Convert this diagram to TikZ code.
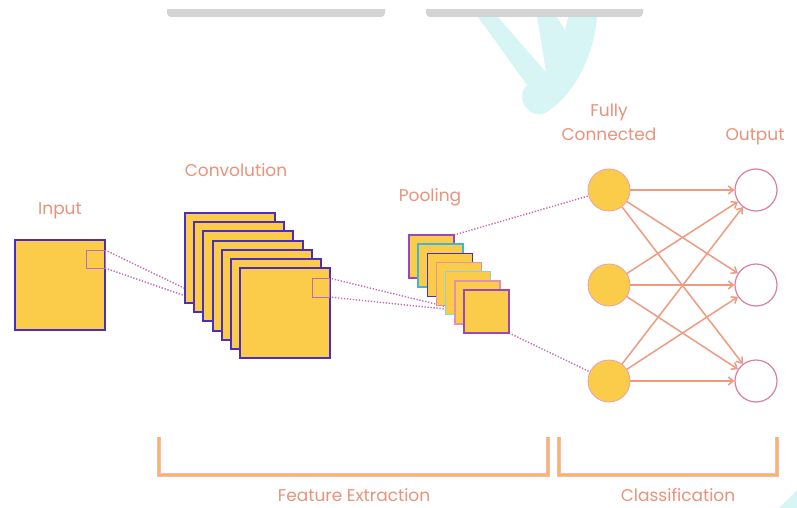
\documentclass[tikz,border=0pt]{standalone}
\usepackage{fontspec}
\setmainfont{Poppins}
\usetikzlibrary{arrows.meta,backgrounds}
\definecolor{yel}{HTML}{FBCB4A}
\definecolor{pur}{HTML}{4B2DC0}
\definecolor{cya}{HTML}{3FB6D9}
\definecolor{pnk}{HTML}{E38FB0}
\definecolor{lcy}{HTML}{8FD0E0}
\definecolor{ppk}{HTML}{9A48B8}
\definecolor{lab}{HTML}{E8937A}
\definecolor{arr}{HTML}{EE9B82}
\definecolor{dotc}{HTML}{C46AB0}
\definecolor{outc}{HTML}{D97FA0}
\definecolor{fce}{HTML}{EBA0A8}
\definecolor{brk}{HTML}{F9B94F}
\definecolor{brkedge}{HTML}{F2B6CF}
\definecolor{barc}{HTML}{D4D4D4}
\definecolor{deco}{HTML}{D6F5F4}
\definecolor{patchc}{HTML}{B070C8}
\tikzset{
 sq/.style={draw=pur, fill=yel, line width=2pt, anchor=north west, inner sep=0pt, outer sep=0pt},
 patchbox/.style={draw=patchc, line width=1pt, anchor=north west, inner sep=0pt, outer sep=0pt},
 lbl/.style={text=lab, font=\fontsize{17}{20}\selectfont, anchor=base, inner sep=0pt},
 fcnode/.style={circle, fill=yel, draw=fce, line width=0.8pt, minimum size=42pt, inner sep=0pt},
 outnode/.style={circle, fill=white, draw=outc, line width=1.2pt, minimum size=42pt, inner sep=0pt},
 conn/.style={draw=arr, line width=1.5pt, -{Straight Barb[length=5pt,width=8pt]}},
 dotline/.style={draw=dotc, line width=1.4pt, dash pattern=on 1.3pt off 1.7pt},
 brkunder/.style={draw=brkedge, line width=3.6pt},
 brkline/.style={draw=brk, line width=2.2pt}
}
\begin{document}
\begin{tikzpicture}[x=1pt,y=-1pt]
\useasboundingbox (0,0) rectangle (797,508);

% input
\node[sq, minimum width=90pt, minimum height=90pt] (in) at (15,240) {};
\node[patchbox, minimum width=19pt, minimum height=18pt] (ip) at (86,250) {};

% convolution stack
\foreach \i/\c in {0/pur,1/pur,2/pur,3/pur,4/pur,5/pur,6/pur}
  \node[sq, draw=\c, minimum width=90pt, minimum height=90pt] (c\i) at ({185+9.17*\i},{213+9.17*\i}) {};
\node[patchbox, minimum width=17pt, minimum height=19pt] (cp) at (312,278) {};

% pooling stack
\foreach \i/\c in {0/ppk,1/cya,2/pur,3/pnk,4/lcy,5/pnk,6/ppk}
  \node[sq, draw=\c, line width=1.6pt, minimum width=45pt, minimum height=43pt] (p\i) at ({409+9.17*\i},{235+9.17*\i}) {};

% fully connected and output
\node[fcnode] (f1) at (609,190) {};
\node[fcnode] (f2) at (609,285) {};
\node[fcnode] (f3) at (609,381) {};
\node[outnode] (o1) at (756,190) {};
\node[outnode] (o2) at (756,285) {};
\node[outnode] (o3) at (756,381) {};

\coordinate (cin) at (240,315);
\coordinate (pin) at (464,311);

\begin{scope}[on background layer]
  \fill[white] (0,0) rectangle (797,508);
  % decorative shapes
  \begin{scope}
    \clip (0,17) rectangle (797,508);
    \fill[deco] (478,17) -- (597,17) .. controls (594,55) and (575,95) .. (545,113)
       .. controls (532,120) and (513,100) .. (527,85) -- cycle;
    \fill[white] (498,17) -- (537,17) -- (546,72) -- cycle;
    \fill[white] (557,17) -- (568,17) -- (565,30) -- cycle;
  \end{scope}
  \fill[deco] (779,508) -- (797,490) -- (797,508) -- cycle;
  \fill[barc, rounded corners=4pt] (167,0) -- (167,17) -- (385,17) -- (385,0) -- cycle;
  \fill[barc, rounded corners=4pt] (426,0) -- (426,17) -- (643,17) -- (643,0) -- cycle;
  \fill[white] (160,0) rectangle (650,9.5);
  % dotted connectors
  \draw[dotline] (ip.north east) -- (cin);
  \draw[dotline] (ip.south east) -- (cin);
  \draw[dotline] (cp.north east) -- (pin);
  \draw[dotline] (cp.south east) -- (pin);
  \draw[dotline] (p0.north east) -- (f1);
  \draw[dotline] (p6.south east) -- (f3);
\end{scope}

% fully connected arrows
\foreach \i in {1,2,3}
  \foreach \j in {1,2,3}
    \draw[conn] (f\i) -- (o\j);

% brackets
\draw[brkunder] (159,437) -- (159,475) -- (548,475) -- (548,437);
\draw[brkline] (159,437) -- (159,475) -- (548,475) -- (548,437);
\draw[brkunder] (559,437) -- (559,475) -- (777,475) -- (777,437);
\draw[brkline] (559,437) -- (559,475) -- (777,475) -- (777,437);

% labels
\node[lbl] (tin) at (60,214) {Input};
\node[lbl] (tconv) at (236,176) {Convolution};
\node[lbl] (tpool) at (430,201) {Pooling};
\node[lbl] (tfully) at (609,117) {Fully};
\node[lbl] (tconn) at (609,140) {Connected};
\node[lbl] (tout) at (755,140) {Output};
\node[lbl] (tfe) at (354,501) {Feature Extraction};
\node[lbl] (tcl) at (678,501) {Classification};
\end{tikzpicture}
\end{document}
